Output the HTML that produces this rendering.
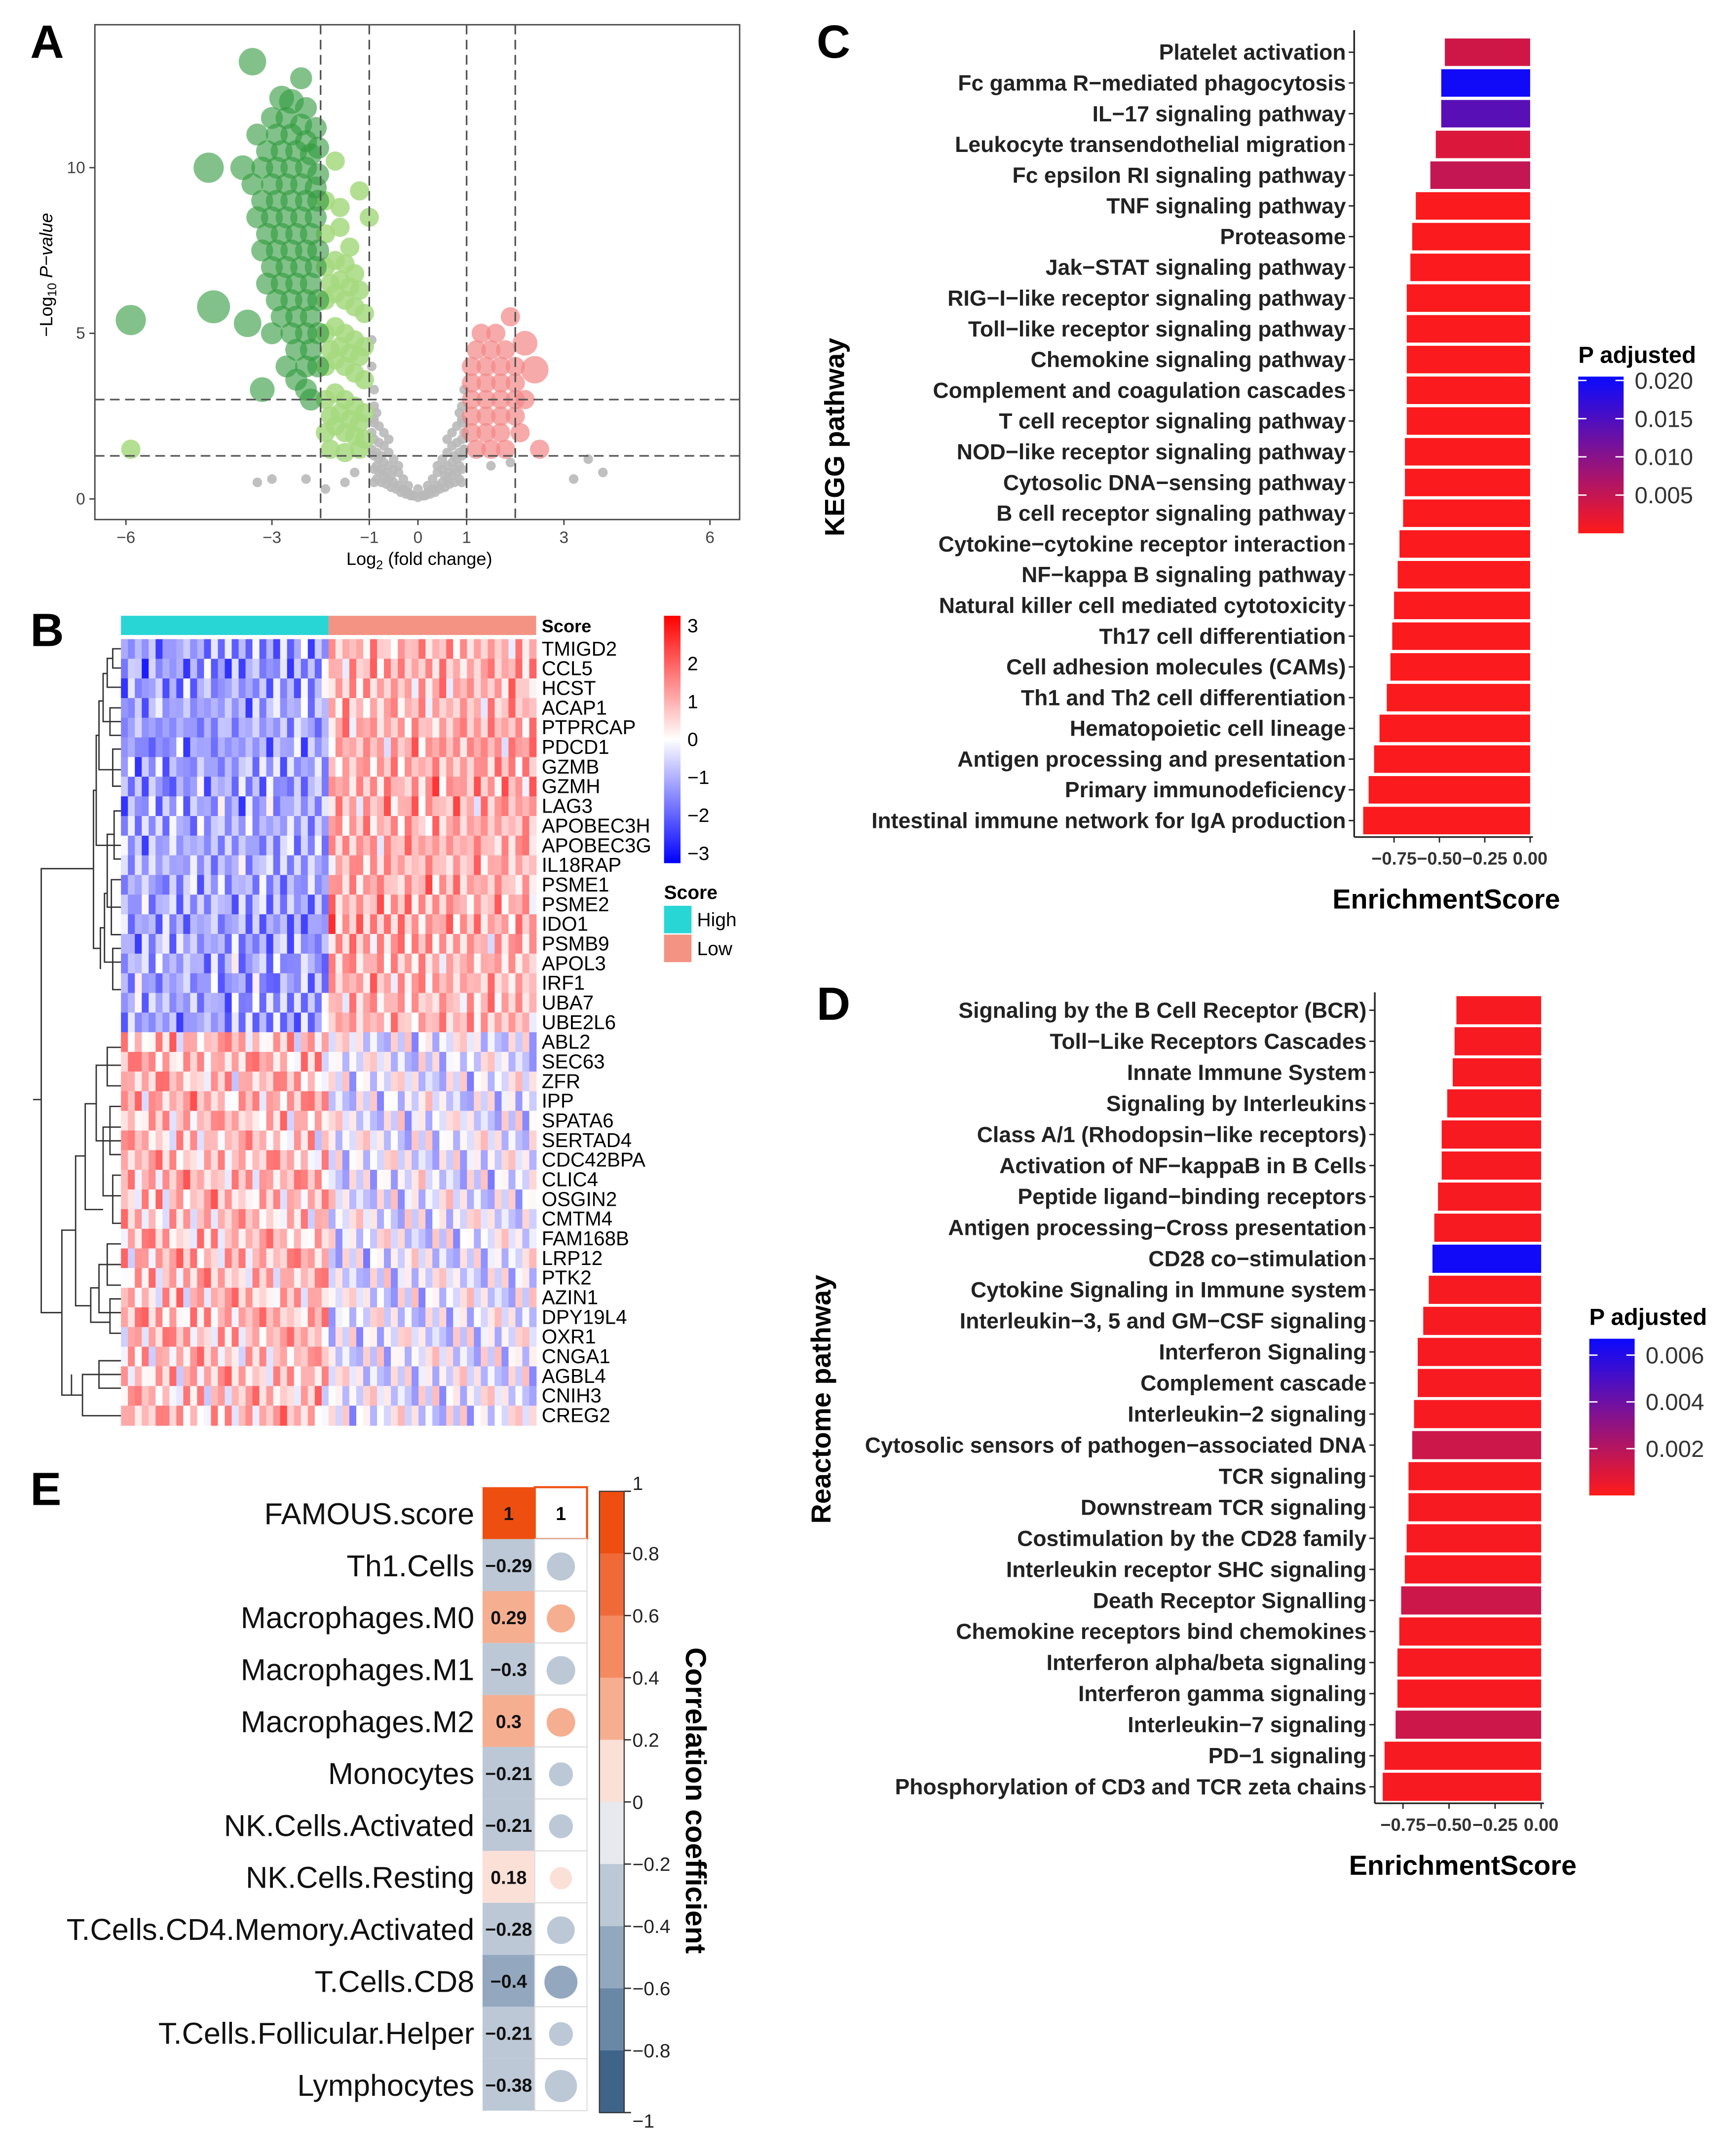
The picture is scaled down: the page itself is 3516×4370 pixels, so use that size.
<!DOCTYPE html>
<html><head><meta charset="utf-8"><style>
html,body{margin:0;padding:0;background:#fff}
svg{display:block}
text{font-family:"Liberation Sans",Arial,sans-serif}
</style></head><body>
<svg id="fig" xmlns="http://www.w3.org/2000/svg" width="3516" height="4370" viewBox="0 0 1262 1568.6" preserveAspectRatio="none">
<rect width="1262" height="1569" fill="#fff"/>
</svg>
<script>
// ---------- Panel A data ----------
const greenFC=[-3.4,-4.3,-4.2,-5.9,-3.5,-3.2,-2.8,-2.6,-2.3,-3.0,-2.7,-2.4,-2.1,-3.3,-2.9,-2.6,-2.3,-2.05,-3.1,-2.8,-2.5,-2.2,-3.6,-3.2,-2.9,-2.6,-2.3,-2.05,-3.4,-3.0,-2.7,-2.4,-2.1,-3.2,-2.9,-2.6,-2.3,-2.05,-3.3,-3.0,-2.7,-2.4,-2.1,-3.1,-2.8,-2.5,-2.2,-3.2,-2.9,-2.6,-2.3,-2.05,-3.0,-2.7,-2.4,-2.1,-3.1,-2.8,-2.5,-2.2,-2.9,-2.6,-2.3,-2.05,-2.8,-2.5,-2.2,-3.0,-2.6,-2.3,-2.05,-2.5,-2.2,-2.7,-2.3,-2.05,-2.5,-2.3,-2.4,-2.2];
const greenP=[13.2,10.0,5.8,5.4,5.3,3.3,12.1,12.0,11.8,11.5,11.5,11.3,11.2,11.0,11.0,11.0,10.8,10.6,10.5,10.5,10.5,10.4,10.0,10.0,10.0,10.0,10.0,9.8,9.5,9.5,9.5,9.5,9.4,9.0,9.0,9.0,9.0,9.0,8.5,8.5,8.5,8.5,8.5,8.0,8.0,8.0,8.0,7.5,7.5,7.5,7.5,7.5,7.0,7.0,7.0,7.0,6.5,6.5,6.5,6.5,6.0,6.0,6.0,6.0,5.5,5.5,5.5,5.0,5.0,5.0,5.0,4.5,4.5,4.0,4.0,4.0,3.6,3.3,12.7,3.0];
const greenR=[10,11,12,11,10,9,9,9,8,8,8,8,8,8,8,8,8,8,8,8,8,8,9,8,8,8,8,8,8,8,8,8,8,8,8,8,8,8,8,8,8,8,8,8,8,8,8,8,8,8,8,8,8,8,8,8,8,8,8,8,8,8,8,8,8,8,8,8,8,8,8,8,8,8,8,8,8,8,8,8];
const lgFC=[-5.9,-1.9,-1.6,-1.9,-1.6,-1.4,-1.9,-1.7,-1.5,-1.3,-1.9,-1.7,-1.5,-1.3,-1.1,-1.9,-1.7,-1.5,-1.3,-1.1,-1.9,-1.7,-1.5,-1.3,-1.1,-1.9,-1.7,-1.5,-1.3,-1.1,-1.9,-1.7,-1.5,-1.3,-1.1,-1.8,-1.5,-1.2,-1.2,-1.0,-1.7,-1.8,-1.6,-1.4,-1.2,-1.8,-1.6,-1.4,-1.2,-1.8,-1.6,-1.4,-1.2];
const lgP=[1.5,9.0,8.8,8.0,8.2,7.6,7.0,7.2,7.1,6.8,6.0,6.2,6.0,5.8,5.6,5.0,5.2,5.0,4.8,4.6,4.0,4.2,4.0,3.8,3.6,3.0,3.2,3.0,2.8,2.6,2.0,2.2,2.0,1.9,1.8,1.5,1.4,1.5,9.3,8.5,10.2,6.5,6.6,6.4,6.3,4.5,4.6,4.4,4.3,2.5,2.6,2.4,2.3];
const redFC=[1.9,1.3,1.6,1.2,1.5,1.8,2.2,1.1,1.4,1.7,2.0,2.4,1.1,1.4,1.7,2.0,1.1,1.4,1.7,2.0,2.2,1.1,1.4,1.7,2.0,1.1,1.4,1.7,2.1,1.2,1.5,1.8,2.5];
const redP=[5.5,5.0,5.0,4.5,4.5,4.5,4.7,4.0,4.0,4.0,4.0,3.9,3.5,3.5,3.5,3.5,3.0,3.0,3.0,3.0,3.0,2.5,2.5,2.5,2.5,2.0,2.0,2.0,2.0,1.5,1.5,1.5,1.5];
const redR=[7,7,7,7,7,7,9,7,7,7,7,10,7,7,7,7,7,7,7,7,7,7,7,7,7,7,7,7,7,7,7,7,7];
const greyFC=[-0.9,-0.8,-0.7,-0.6,-0.5,-0.4,-0.3,-0.2,-0.1,0,0.1,0.2,0.3,0.4,0.5,0.6,0.7,0.8,0.9,-0.9,-0.8,-0.7,-0.6,-0.5,-0.4,-0.3,-0.2,0.2,0.3,0.4,0.5,0.6,0.7,0.8,0.9,-0.9,-0.8,-0.7,-0.6,-0.5,-0.4,0.4,0.5,0.6,0.7,0.8,0.9,-0.9,-0.8,-0.7,-0.6,0.6,0.7,0.8,0.9,-0.9,-0.85,0.85,0.9,-0.9,-0.95,0.95,-1.9,-2.3,-3.0,-3.3,3.2,3.5,3.8,-0.1,0.1,0,-0.2,0.2,-0.3,0.3,-1.3,-1.5,1.5,1.9,-0.95,0.95,-0.9,0.9,-0.85,-0.75,-0.65,-0.55,-0.45,-0.35,-0.25,-0.15,0.15,0.25,0.35,0.45,0.55,0.65,0.75,0.85,-0.85,-0.75,-0.65,-0.55,0.55,0.65,0.75,0.85,-0.95,-0.85,-0.75,0.75,0.85,0.95,-0.95,-0.9,0.9,0.95];
const greyP=[0.9,0.8,0.7,0.6,0.5,0.4,0.3,0.2,0.1,0.05,0.1,0.2,0.3,0.4,0.5,0.6,0.7,0.8,0.9,1.3,1.2,1.1,1.0,0.9,0.8,0.6,0.4,0.4,0.6,0.8,0.9,1.0,1.1,1.2,1.3,1.8,1.7,1.6,1.4,1.2,1.0,1.0,1.2,1.4,1.6,1.7,1.8,2.3,2.2,2.0,1.8,1.8,2.0,2.2,2.3,2.8,2.6,2.6,2.8,3.3,4.0,3.3,0.3,0.6,0.6,0.5,0.6,1.2,0.8,0.1,0.1,0.3,0.2,0.2,0.3,0.3,0.8,0.5,1.0,1.1,4.8,1.5,0.5,0.5,0.6,0.5,0.45,0.35,0.3,0.2,0.15,0.1,0.1,0.15,0.2,0.3,0.35,0.45,0.5,0.6,1.0,0.9,0.8,0.7,0.7,0.8,0.9,1.0,1.5,1.4,1.3,1.3,1.4,1.5,2.0,2.4,2.4,2.0];
const volX=[-6,-3,-1,0,1,3,6], volY=[0,5,10];
// ---------- Panel B data ----------
const genes=["TMIGD2","CCL5","HCST","ACAP1","PTPRCAP","PDCD1","GZMB","GZMH","LAG3","APOBEC3H","APOBEC3G","IL18RAP","PSME1","PSME2","IDO1","PSMB9","APOL3","IRF1","UBA7","UBE2L6","ABL2","SEC63","ZFR","IPP","SPATA6","SERTAD4","CDC42BPA","CLIC4","OSGIN2","CMTM4","FAM168B","LRP12","PTK2","AZIN1","DPY19L4","OXR1","CNGA1","AGBL4","CNIH3","CREG2"];
const rowW=[1.0,1.1,1.0,0.9,1.0,1.1,1.0,1.1,1.0,0.9,1.0,0.9,1.0,1.0,1.1,1.0,0.9,1.0,0.9,1.0,0.7,0.8,0.7,0.8,0.7,0.6,0.7,0.8,0.7,0.6,0.7,0.8,0.7,0.7,0.8,0.7,0.6,0.7,0.6,0.7];
const colW=[1.3,0.9,1.6,1.1,0.7,1.4,1.8,0.8,1.2,1.5,0.6,1.3,1.9,1.0,1.2,0.7,1.6,1.1,1.4,0.9,1.7,1.0,1.3,0.8,1.5,1.2,0.9,1.6,1.0,1.3,0.9,1.2,0.7,1.4,1.0,0.8,1.3,1.1,0.6,1.2,0.9,1.5,0.8,1.1,1.3,0.7,1.0,1.4,0.9,1.2,0.8,1.1,1.3,0.6,1.0,1.2,0.9,1.4,0.8,1.1];
const noise=[0.3,-0.5,0.8,-0.2,0.1,-0.9,0.6,-0.4,0.2,0.9,-0.7,0.4,-0.1,0.7,-0.6,0.5,-0.3];
const hmTicks=[3,2,1,0,-1,-2,-3];
// ---------- Panel C data ----------
const kegg=["Platelet activation","Fc gamma R\u2212mediated phagocytosis","IL\u221217 signaling pathway","Leukocyte transendothelial migration","Fc epsilon RI signaling pathway","TNF signaling pathway","Proteasome","Jak\u2212STAT signaling pathway","RIG\u2212I\u2212like receptor signaling pathway","Toll\u2212like receptor signaling pathway","Chemokine signaling pathway","Complement and coagulation cascades","T cell receptor signaling pathway","NOD\u2212like receptor signaling pathway","Cytosolic DNA\u2212sensing pathway","B cell receptor signaling pathway","Cytokine\u2212cytokine receptor interaction","NF\u2212kappa B signaling pathway","Natural killer cell mediated cytotoxicity","Th17 cell differentiation","Cell adhesion molecules (CAMs)","Th1 and Th2 cell differentiation","Hematopoietic cell lineage","Antigen processing and presentation","Primary immunodeficiency","Intestinal immune network for IgA production"];
const keggES=[-0.47,-0.49,-0.49,-0.52,-0.55,-0.63,-0.65,-0.66,-0.68,-0.68,-0.68,-0.68,-0.68,-0.69,-0.69,-0.70,-0.72,-0.73,-0.75,-0.76,-0.77,-0.79,-0.83,-0.86,-0.89,-0.92];
const keggP=[0.004,0.020,0.014,0.003,0.005,0.0003,0.0003,0.0003,0.0003,0.0003,0.0003,0.0003,0.0003,0.0003,0.0003,0.0003,0.0003,0.0003,0.0003,0.0003,0.0003,0.0003,0.0003,0.0003,0.0003,0.0003];
const esTicks=[-0.75,-0.5,-0.25,0];
const esTickLabels=["\u22120.75","\u22120.50","\u22120.25","0.00"];
const keggLegTicks=[0.020,0.015,0.010,0.005];
// ---------- Panel D data ----------
const react=["Signaling by the B Cell Receptor (BCR)","Toll\u2212Like Receptors Cascades","Innate Immune System","Signaling by Interleukins","Class A/1 (Rhodopsin\u2212like receptors)","Activation of NF\u2212kappaB in B Cells","Peptide ligand\u2212binding receptors","Antigen processing\u2212Cross presentation","CD28 co\u2212stimulation","Cytokine Signaling in Immune system","Interleukin\u22123, 5 and GM\u2212CSF signaling","Interferon Signaling","Complement cascade","Interleukin\u22122 signaling","Cytosolic sensors of pathogen\u2212associated DNA ","TCR signaling","Downstream TCR signaling","Costimulation by the CD28 family","Interleukin receptor SHC signaling","Death Receptor Signalling","Chemokine receptors bind chemokines","Interferon alpha/beta signaling","Interferon gamma signaling","Interleukin\u22127 signaling","PD\u22121 signaling","Phosphorylation of CD3 and TCR zeta chains"];
const reactES=[-0.46,-0.47,-0.48,-0.51,-0.54,-0.54,-0.56,-0.58,-0.59,-0.61,-0.64,-0.67,-0.67,-0.69,-0.70,-0.72,-0.72,-0.73,-0.74,-0.76,-0.77,-0.78,-0.78,-0.79,-0.85,-0.86];
const reactP=[0.0002,0.0002,0.0002,0.0002,0.0002,0.0002,0.0002,0.0002,0.0065,0.0002,0.0002,0.0002,0.0002,0.0002,0.0014,0.0002,0.0002,0.0002,0.0002,0.0014,0.0002,0.0002,0.0002,0.0014,0.0002,0.0002];
const reactLegTicks=[0.006,0.004,0.002];
// ---------- Panel E data ----------
const cells=["FAMOUS.score","Th1.Cells","Macrophages.M0","Macrophages.M1","Macrophages.M2","Monocytes","NK.Cells.Activated","NK.Cells.Resting","T.Cells.CD4.Memory.Activated","T.Cells.CD8","T.Cells.Follicular.Helper","Lymphocytes"];
const corr=[1,-0.29,0.29,-0.3,0.3,-0.21,-0.21,0.18,-0.28,-0.4,-0.21,-0.38];
const corrLabels=["1","\u22120.29","0.29","\u22120.3","0.3","\u22120.21","\u22120.21","0.18","\u22120.28","\u22120.4","\u22120.21","\u22120.38"];
const corrTicks=[1,0.8,0.6,0.4,0.2,0,-0.2,-0.4,-0.6,-0.8,-1];
const corrTickLabels=["1","0.8","0.6","0.4","0.2","0","\u22120.2","\u22120.4","\u22120.6","\u22120.8","\u22121"];

const NS="http://www.w3.org/2000/svg";
const svg=document.getElementById('fig');
function mk(tag,a,parent){const e=document.createElementNS(NS,tag);for(const k in a)e.setAttribute(k,a[k]);(parent||svg).appendChild(e);return e;}
function tx(str,a,parent){const e=mk('text',a,parent);e.textContent=str;return e;}

[["A",22,42],["B",22,470],["C",594,42],["D",594,742],["E",22,1095]].forEach(p=>{
 const t=tx(p[0],{x:p[1],y:p[2],'font-size':34,'font-weight':'bold'});
 
 
});

// ===== Panel A =====
const AX=v=>304+v*35.4, AY=v=>363-v*24.1;
const gA=mk('g',{});


function dots(fc,p,r,col,op,name){fc.forEach((v,i)=>{const c=mk('circle',{cx:AX(v),cy:AY(p[i]),r:Array.isArray(r)?r[i]:r,fill:col,'fill-opacity':op},gA);
 
 });}
dots(greyFC,greyP,3.5,'#b9b9b9',0.9,'point-ns');
dots(lgFC,lgP,7,'#a6d97f',0.85,'point-down-weak');
dots(greenFC,greenP,greenR,'#2e9a3c',0.6,'point-down-strong');
dots(redFC,redP,redR,'#f38686',0.7,'point-up');
const boxA=mk('rect',{x:69,y:18,width:469,height:360,fill:'none',stroke:'#444','stroke-width':1},gA);


[-2,-1,1,2].forEach(v=>{const l=mk('line',{x1:AX(v),x2:AX(v),y1:18,y2:378,stroke:'#555','stroke-dasharray':'7,4','stroke-width':1.2},gA);
 
 });
[3,1.3].forEach(v=>{const l=mk('line',{x1:69,x2:538,y1:AY(v),y2:AY(v),stroke:'#555','stroke-dasharray':'7,4','stroke-width':1.2},gA);
 
 });
volX.forEach(v=>{mk('line',{x1:AX(v),x2:AX(v),y1:378,y2:382,stroke:'#444'},gA);
 const t=tx(v<0?'\u2212'+(-v):String(v),{x:AX(v),y:395,'font-size':12,'text-anchor':'middle',fill:'#444'},gA);
 
 });
volY.forEach(v=>{mk('line',{x1:65,x2:69,y1:AY(v),y2:AY(v),stroke:'#444'},gA);
 const t=tx(String(v),{x:62,y:AY(v)+4,'font-size':12,'text-anchor':'end',fill:'#444'},gA);
 
 });
const xtA=tx('',{x:305,y:411,'font-size':13,'text-anchor':'middle'},gA);
xtA.innerHTML='Log<tspan font-size="9" dy="3">2</tspan><tspan dy="-3"> (fold change)</tspan>';


const ytA=tx('',{transform:'translate(38,200) rotate(-90)','font-size':13,'text-anchor':'middle'},gA);
ytA.innerHTML='\u2212Log<tspan font-size="9" dy="3">10</tspan><tspan dy="-3" font-style="italic"> P\u2212value</tspan>';



// ===== Panel B =====
const gB=mk('g',{});


const hx0=88,hx1=390,hy0=465,rh=14.3,nC=colW.length,cw=(hx1-hx0)/nC;
function hmCol(v){v=Math.max(-3,Math.min(3,v));const t=Math.abs(v)/3;
 const c=Math.round(255*(1-t));
 if(v<0)return `rgb(${c},${c},255)`;
 return `rgb(255,${c},${c})`;}
const sh=mk('rect',{x:hx0,y:448,width:(hx1-hx0)/2,height:14,fill:'#29d6d6'},gB);


const sl=mk('rect',{x:(hx0+hx1)/2,y:448,width:(hx1-hx0)/2,height:14,fill:'#f49384'},gB);


const st=tx('Score',{x:394,y:460,'font-size':13,'font-weight':'bold'},gB);


genes.forEach((g,r)=>{
 const top=r<20;
 for(let c=0;c<nC;c++){
  const high=c<nC/2;
  let v;
  if(top) v=(high?-1.0:0.75)*rowW[r]*colW[(c+r*3)%nC]+noise[(r*7+c)%17];
  else v=(high?0.9:-0.35)*rowW[r]*colW[(c+r)%nC]+noise[(r*5+c*3)%17]*1.2;
  const cell=mk('rect',{x:hx0+c*cw,y:hy0+r*rh,width:cw+0.3,height:rh+0.3,fill:hmCol(v)},gB);
  
  
 }
 const t=tx(g,{x:394,y:hy0+r*rh+12,'font-size':14.5},gB);
 
 
});
const dend=mk('path',{fill:'none',stroke:'#333','stroke-width':1,d:
 'M88,472H82V486H88M82,479H78V500H88M78,490H75V525H88M88,515H80V535H88M75,510H72V560H88M88,545H82V572H88M72,535H70V615H88M88,590H83V625H88M83,607H78V660H88M88,640H81V680H88M78,650H76V700H88M88,690H82V720H88M76,675H73V705M70,575H68V690H73'
 +' M88,762H78V790H88M88,775H70V830H88M88,805H80V840H88M88,820H75V870H88M88,855H82V890H88M70,803H62V880H75M88,905H78V935H88M88,920H72V955H88M88,945H80V970H88M72,937H66V962H80M62,841H55V950H66M88,990H72V1010H88M88,1000H60V1030H88M60,1015H52V1000M55,895H45V1015H52M68,632H30V955H45M30,800H24'},gB);


const grad=mk('linearGradient',{id:'hmg',x1:0,y1:0,x2:0,y2:1},mk('defs',{}));
[['0','#ff0000'],['0.5','#ffffff'],['1','#0000ff']].forEach(s=>mk('stop',{offset:s[0],'stop-color':s[1]},grad));
const hl=mk('rect',{x:483,y:448,width:12,height:180,fill:'url(#hmg)'},gB);


hmTicks.forEach(v=>{const y=448+(3-v)/6*180*0.92+7;
 const t=tx(v<0?'\u2212'+(-v):String(v),{x:500,y:y+5,'font-size':14},gB);
 
 });
const slt=tx('Score',{x:483,y:654,'font-size':14,'font-weight':'bold'},gB);


[['#29d6d6','High',659],['#f49384','Low',680]].forEach(s=>{
 const r=mk('rect',{x:483,y:s[2],width:20,height:20,fill:s[0]},gB);
 
 
 const t=tx(s[1],{x:507,y:s[2]+15,'font-size':14},gB);
 
 });

// ===== bar panels =====
function padjCol(p,max){const t=Math.max(0,Math.min(1,p/max));
 const r=Math.round(255*(1-t)+10*t),b=Math.round(26*(1-t)+255*t),g=Math.round(26*(1-t)+10*t);return `rgb(${r},${g},${b})`;}
function barPanel(o){
 const g=mk('g',{});
 
 
 const X=v=>o.zero+v*o.scale;
 o.labels.forEach((lab,i)=>{const y=o.y0+i*o.step;
  const b=mk('rect',{x:X(o.es[i]),y:y-o.bh/2,width:X(0)-X(o.es[i]),height:o.bh,fill:padjCol(o.p[i],o.pmax)},g);
  
  
  mk('line',{x1:o.ax-4,x2:o.ax,y1:y,y2:y,stroke:'#222'},g);
  const t=tx(lab,{x:o.ax-6,y:y+5.5,'font-size':16,'font-weight':'bold','text-anchor':'end',fill:'#222'},g);
  
  });
 const ya=mk('line',{x1:o.ax,x2:o.ax,y1:o.ytop,y2:o.ybot,stroke:'#222','stroke-width':1.2},g);
 
 
 const xa=mk('line',{x1:o.ax,x2:X(0)+2,y1:o.ybot,y2:o.ybot,stroke:'#222','stroke-width':1.2},g);
 
 
 esTicks.forEach((v,i)=>{mk('line',{x1:X(v),x2:X(v),y1:o.ybot,y2:o.ybot+4,stroke:'#222'},g);
  const t=tx(esTickLabels[i],{x:X(v),y:o.ybot+20,'font-size':13,'font-weight':'bold','text-anchor':'middle',fill:'#333'},g);
  
  });
 const xt=tx('EnrichmentScore',{x:o.xtx,y:o.ybot+52,'font-size':20,'font-weight':'bold','text-anchor':'middle'},g);
 
 
 const yt=tx(o.ytitle,{transform:`translate(${o.ytx},${o.yty}) rotate(-90)`,'font-size':20,'font-weight':'bold','text-anchor':'middle'},g);
 
 
 const gid=o.name+'-grad';
 const lg=mk('linearGradient',{id:gid,x1:0,y1:0,x2:0,y2:1},mk('defs',{}));
 mk('stop',{offset:0,'stop-color':padjCol(o.pmax,o.pmax)},lg);
 mk('stop',{offset:0.5,'stop-color':padjCol(o.pmax/2,o.pmax)},lg);
 mk('stop',{offset:1,'stop-color':padjCol(0,o.pmax)},lg);
 const cb=mk('rect',{x:o.cbx,y:o.cby,width:33,height:o.cbh,fill:`url(#${gid})`},g);
 
 
 const lt=tx('P adjusted',{x:o.cbx,y:o.cby-10,'font-size':17,'font-weight':'bold'},g);
 
 
 o.ticks.forEach(v=>{const y=o.cby+o.cbh*(1-v/o.pmax);
  mk('line',{x1:o.cbx,x2:o.cbx+6,y1:y,y2:y,stroke:'#fff'},g);
  mk('line',{x1:o.cbx+27,x2:o.cbx+33,y1:y,y2:y,stroke:'#fff'},g);
  const t=tx(v.toFixed(3),{x:o.cbx+41,y:y+6,'font-size':17,fill:'#333'},g);
  
  });
}
barPanel({name:'kegg-chart',labels:kegg,es:keggES,p:keggP,pmax:0.0205,zero:1113,scale:132,y0:38,step:22.36,bh:20,ax:985,ytop:22,ybot:609,xtx:1052,ytitle:'KEGG pathway',ytx:614,yty:318,cbx:1148,cby:274,cbh:114,ticks:keggLegTicks});
barPanel({name:'reactome-chart',labels:react,es:reactES,p:reactP,pmax:0.0067,zero:1121,scale:134,y0:735,step:22.6,bh:20.5,ax:1000,ytop:722,ybot:1312,xtx:1064,ytitle:'Reactome pathway',ytx:604,yty:1018,cbx:1156,cby:974,cbh:114,ticks:reactLegTicks});

// ===== Panel E =====
const gE=mk('g',{});


const bandCols=['#ee4f10','#f06a38','#f38a60','#f6ae90','#fbe0d8','#e7e9ee','#bcc8d6','#93a8bf','#6a88a6','#3f648a'];
function corrCol(v){let i=Math.floor((1-v)/0.2+1e-6);if(i<0)i=0;if(i>9)i=9;return bandCols[i];}
const ey0=1082,erh=37.8,c1=351,c2=389,cwid=38;
cells.forEach((name,i)=>{const y=ey0+i*erh;
 const t=tx(name,{x:345,y:y+27,'font-size':22,'text-anchor':'end',fill:'#111'},gE);
 
 
 const r=mk('rect',{x:c1,y:y,width:cwid,height:erh,fill:corrCol(corr[i])},gE);
 
 
 const v=tx(corrLabels[i],{x:c1+cwid/2,y:y+24,'font-size':13.5,'font-weight':'bold','text-anchor':'middle',fill:'#111'},gE);
 
 
 const b=mk('rect',{x:c2,y:y,width:cwid,height:erh,fill:'#fff',stroke:i==0?'#ee4f10':'#ddd','stroke-width':i==0?1.5:0.8},gE);
 
 
 if(i==0){const o=tx('1',{x:c2+cwid/2,y:y+24,'font-size':13.5,'font-weight':'bold','text-anchor':'middle'},gE);
  
  }
 else{const c=mk('circle',{cx:c2+cwid/2,cy:y+erh/2+1,r:Math.sqrt(Math.abs(corr[i]))*19,fill:corrCol(corr[i])},gE);
  
  }
});
const cbx=436,cby=1085,cbh=452;
const CY=v=>cby+(1-v)/2*cbh;
bandCols.forEach((c,i)=>{const r=mk('rect',{x:cbx,y:cby+i*cbh/10,width:18,height:cbh/10+0.5,fill:c},gE);
 
 });
mk('rect',{x:cbx,y:cby,width:18,height:cbh,fill:'none',stroke:'#333','stroke-width':0.8},gE);
corrTicks.forEach((v,i)=>{mk('line',{x1:cbx+18,x2:cbx+23,y1:CY(v),y2:CY(v),stroke:'#333'},gE);
 const t=tx(corrTickLabels[i],{x:cbx+24,y:CY(v)+(i==0?-1:i==10?11:5),'font-size':14,fill:'#222'},gE);
 
 });
const ct=tx('Correlation coefficient',{transform:'translate(499,1310) rotate(90)','font-size':21,'font-weight':'bold','text-anchor':'middle'},gE);


</script>
</body></html>
